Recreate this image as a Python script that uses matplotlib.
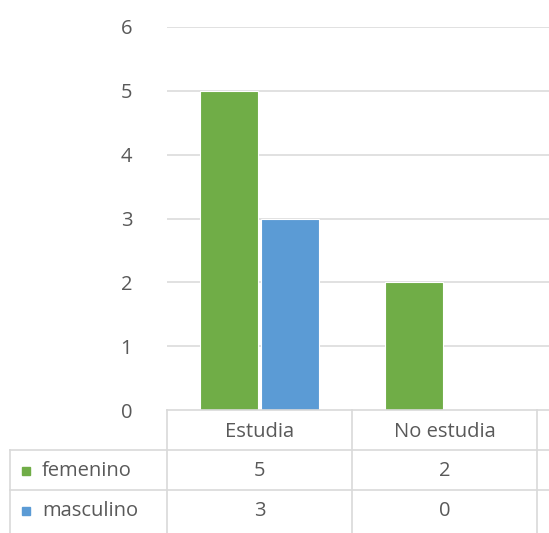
import matplotlib
matplotlib.use("Agg")
import matplotlib.pyplot as plt
import numpy as np
from matplotlib.patches import Rectangle

categories = ["Estudia", "No estudia"]
series_names = ["femenino", "masculino"]
femenino = [5, 2]
masculino = [3, 0]
yticks = [0, 1, 2, 3, 4, 5, 6]

colors = ["#70AD47", "#5B9BD5"]
txt = "#595959"
grid = "#D9D9D9"
W, H = 549, 533
fs = 14.5

plt.rcParams['font.family'] = ['Open Sans', 'DejaVu Sans']

fig = plt.figure(figsize=(W / 100, H / 100), dpi=100)

def fx(x):
    return x / W

def fy(y):
    return 1 - y / H

# plot area in pixel terms
left, right, top, bottom = 167, 549, 27, 410
colw = 185.0
ax = fig.add_axes([fx(left), fy(bottom), fx(right - left), (bottom - top) / H])
ax.set_xlim(-0.5, -0.5 + (right - left) / colw)
ax.set_ylim(0, 6)

x = np.arange(len(categories))
bw = 0.315
ax.bar(x - 0.165, femenino, bw, color=colors[0], edgecolor="white", linewidth=0.8, zorder=3)
ax.bar(x + 0.165, masculino, bw, color=colors[1], edgecolor="white", linewidth=0.8, zorder=3)

ax.set_yticks(yticks)
ax.set_yticklabels([str(t) for t in yticks])
ax.tick_params(axis="y", length=0, pad=25, labelsize=fs, labelcolor=txt)
ax.set_xticks([])
for s in ax.spines.values():
    s.set_visible(False)
for t in yticks[1:]:
    ax.axhline(t, color=grid, lw=1.1, zorder=1)

# data table drawn under the plot
lk = dict(color=grid, lw=1.2, transform=fig.transFigure)
fig.add_artist(plt.Line2D([fx(left), fx(W)], [fy(410), fy(410)], **lk))
fig.add_artist(plt.Line2D([fx(10), fx(W)], [fy(450), fy(450)], **lk))
fig.add_artist(plt.Line2D([fx(10), fx(W)], [fy(490), fy(490)], **lk))
fig.add_artist(plt.Line2D([fx(10), fx(10)], [fy(450), fy(H)], **lk))
for i in range(len(categories) + 1):
    xp = left + i * colw
    fig.add_artist(plt.Line2D([fx(xp), fx(xp)], [fy(410), fy(H)], **lk))

for i, c in enumerate(categories):
    xc = left + (i + 0.5) * colw
    fig.text(fx(xc), fy(432), c, ha="center", va="center", color=txt, fontsize=fs)
    fig.text(fx(xc), fy(471), str(femenino[i]), ha="center", va="center", color=txt, fontsize=fs)
    fig.text(fx(xc), fy(511), str(masculino[i]), ha="center", va="center", color=txt, fontsize=fs)

for j, (name, col) in enumerate(zip(series_names, colors)):
    yc = 471 + j * 40
    fig.add_artist(Rectangle((fx(22), fy(yc + 4)), fx(8), 8 / H, color=col,
                             transform=fig.transFigure))
    fig.text(fx(42), fy(yc), name, ha="left", va="center", color=txt, fontsize=fs)

fig.savefig("out.png", dpi=100)
